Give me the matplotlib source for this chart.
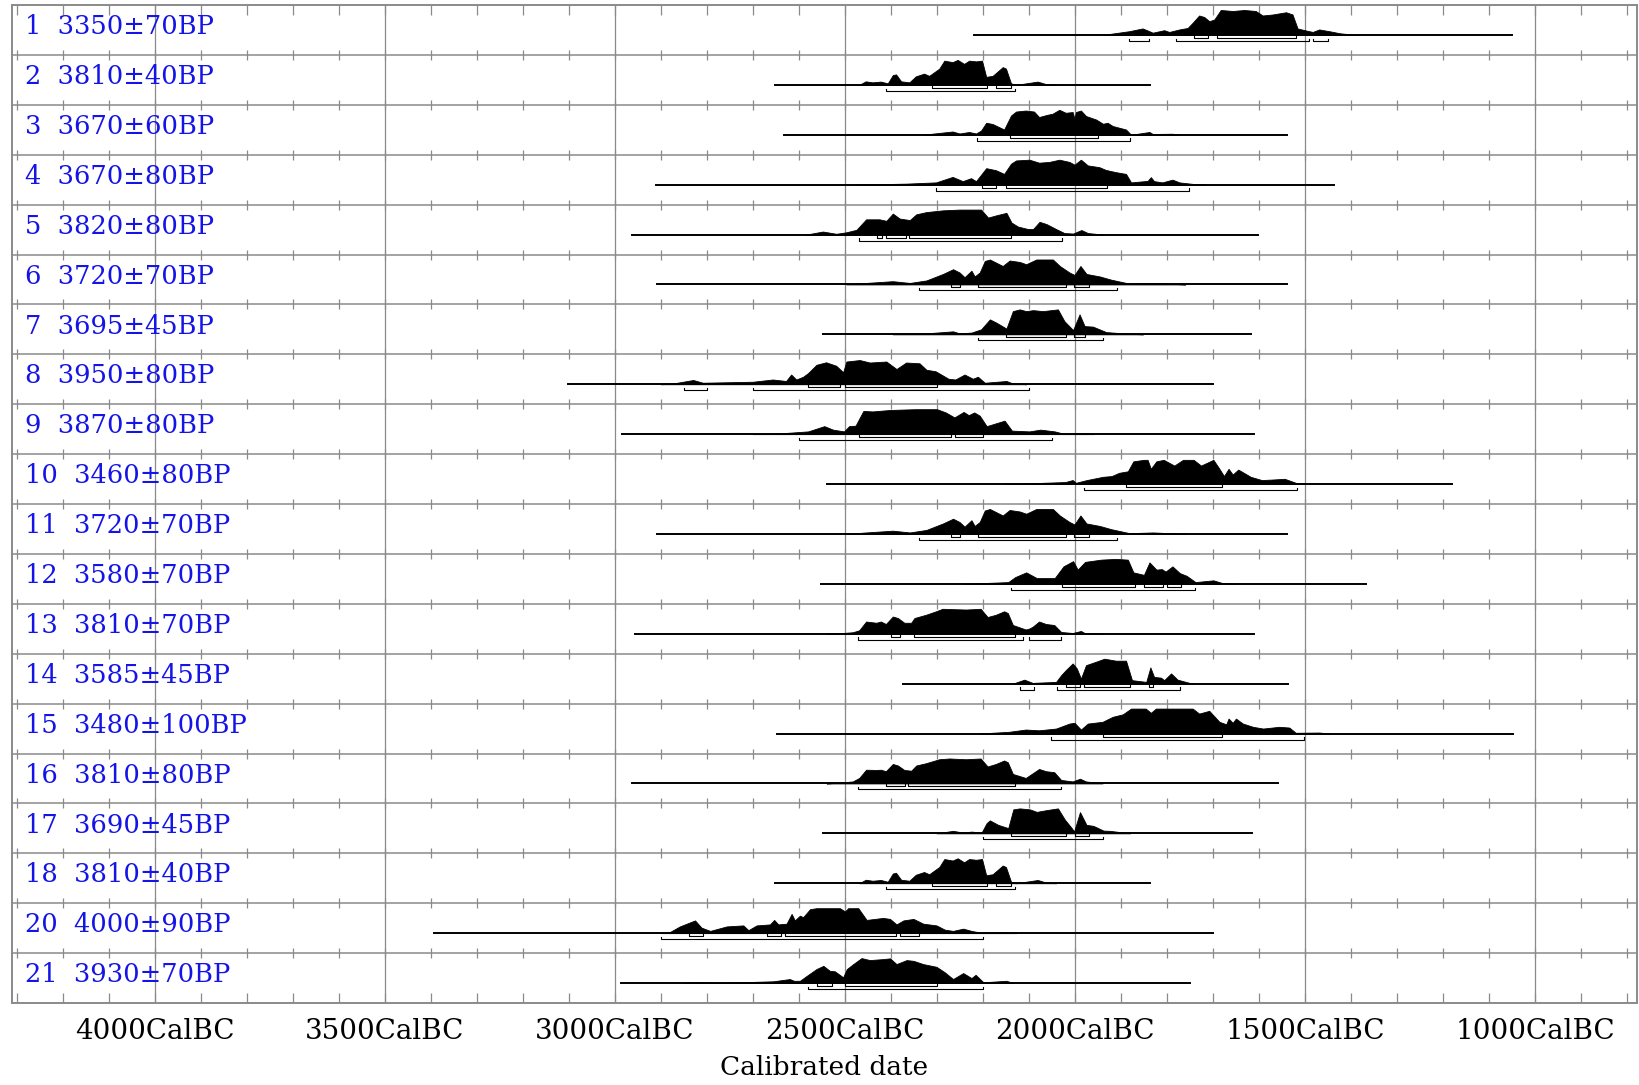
import matplotlib
matplotlib.use("Agg")
import matplotlib.pyplot as plt
from matplotlib.ticker import MultipleLocator, FuncFormatter
import matplotlib.transforms as mtransforms
import numpy as np

# sample labels (lab no, conventional age)
row_ids = ["1", "2", "3", "4", "5", "6", "7", "8", "9", "10",
           "11", "12", "13", "14", "15", "16", "17", "18", "20", "21"]
row_ages = ["3350±70BP", "3810±40BP", "3670±60BP", "3670±80BP", "3820±80BP",
            "3720±70BP", "3695±45BP", "3950±80BP", "3870±80BP", "3460±80BP",
            "3720±70BP", "3580±70BP", "3810±70BP", "3585±45BP", "3480±100BP",
            "3810±80BP", "3690±45BP", "3810±40BP", "4000±90BP", "3930±70BP"]

# extent of the calibration line (cal BC, start -> end)
line_start = [2220, 2652, 2632, 2911, 2964, 2909, 2548, 3102, 2984, 2539,
              2909, 2552, 2957, 2373, 2648, 2964, 2548, 2652, 3393, 2986]
line_end = [1050, 1836, 1539, 1436, 1602, 1539, 1618, 1700, 1611, 1180,
            1539, 1368, 1611, 1536, 1048, 1559, 1616, 1836, 1700, 1750]

# posterior shapes: (cal BC, relative probability)
dist_1 = [(1940, 0), (1882, .15), (1853, .26), (1842, .18), (1831, .09), (1806, .19),
          (1795, .12), (1773, .22), (1755, .28), (1744, .49), (1730, .78), (1719, .72),
          (1708, .55), (1697, .62), (1683, 1.0), (1657, .96), (1632, 1.0), (1607, .96),
          (1592, .78), (1570, .82), (1541, .91), (1527, .82), (1516, .26), (1498, .18),
          (1483, .12), (1469, .22), (1447, .15), (1425, .07), (1396, .01), (1382, 0)]
dist_2 = [(2469, 0), (2455, .14), (2440, .10), (2422, .13), (2407, .06), (2396, .39),
          (2389, .42), (2378, .14), (2360, .10), (2346, .34), (2328, .45), (2317, .36),
          (2295, .65), (2284, .97), (2266, .91), (2255, 1.0), (2241, .84), (2230, .97),
          (2215, .94), (2202, .97), (2193, .32), (2179, .36), (2157, .71), (2150, .65),
          (2139, .06), (2128, 0), (2081, .13), (2063, .03), (2041, 0)]
dist_3 = [(2331, 0), (2266, .13), (2251, .05), (2230, .11), (2215, .05), (2204, .17),
          (2193, .48), (2179, .43), (2154, .21), (2139, .77), (2128, .93), (2107, .97),
          (2089, .93), (2078, .71), (2060, .80), (2049, .84), (2034, 1.0), (2020, .88),
          (2005, .91), (2001, .64), (1998, .91), (1987, .97), (1976, .75), (1954, .61),
          (1939, .44), (1929, .48), (1918, .35), (1889, .21), (1878, 0), (1838, .11),
          (1831, .03), (1788, .04), (1773, 0)]
dist_4 = [(2476, 0), (2367, .04), (2302, .09), (2266, .31), (2244, .14), (2226, .26),
          (2215, .14), (2193, .66), (2172, .58), (2154, .43), (2139, .84), (2128, .97),
          (2099, 1.0), (2078, .88), (2056, .91), (2034, 1.0), (2012, .91), (2001, .80),
          (1987, 1.0), (1972, .77), (1947, .70), (1933, .59), (1911, .50), (1889, .43),
          (1878, .09), (1842, .15), (1835, .30), (1828, .14), (1810, .09), (1788, .20),
          (1773, .09), (1744, .03), (1715, 0)]
dist_5 = [(2584, 0), (2548, .12), (2519, .03), (2497, .09), (2475, .19), (2454, .61),
          (2425, .61), (2410, .55), (2396, .84), (2381, .64), (2359, .58), (2345, .81),
          (2323, .90), (2287, .97), (2251, 1.0), (2204, 1.0), (2189, .68), (2171, .77),
          (2149, .87), (2138, .48), (2124, .32), (2102, .22), (2091, .22), (2077, .51),
          (2062, .42), (2041, .22), (2023, .06), (2004, .04), (1986, .18), (1972, .06),
          (1939, 0)]
dist_6 = [(2497, 0), (2454, .06), (2396, .13), (2359, .06), (2323, .16), (2287, .42),
          (2265, .61), (2251, .48), (2240, .29), (2225, .55), (2218, .32), (2207, .48),
          (2196, .94), (2185, 1.0), (2157, .74), (2142, .96), (2120, .90), (2106, .81),
          (2084, 1.0), (2048, 1.0), (2033, .74), (2012, .48), (2001, .38), (1988, .74),
          (1975, .42), (1946, .32), (1921, .19), (1881, .03), (1830, .06), (1794, .03),
          (1760, 0)]
dist_7 = [(2396, 0), (2323, .04), (2265, .12), (2251, .04), (2225, .07), (2204, .20),
          (2185, .60), (2171, .47), (2149, .23), (2135, .93), (2120, 1.0), (2106, .93),
          (2091, .97), (2070, .93), (2037, 1.0), (2023, .53), (2004, .17), (1990, .80),
          (1979, .33), (1961, .31), (1932, .09), (1888, .03), (1852, 0)]
dist_8 = [(2900, 0), (2874, .03), (2830, .17), (2809, .06), (2700, .10), (2657, .19),
          (2628, .13), (2617, .39), (2606, .19), (2591, .30), (2580, .45), (2562, .78),
          (2541, .88), (2519, .74), (2504, .48), (2497, .91), (2468, .97), (2446, .87),
          (2410, .91), (2388, .61), (2367, .87), (2338, .84), (2323, .58), (2303, .52),
          (2275, .22), (2260, .19), (2240, .39), (2222, .22), (2211, .30), (2196, .06),
          (2149, .13), (2135, .03), (2106, 0)]
dist_9 = [(2700, 0), (2642, .03), (2603, .08), (2580, .11), (2545, .32), (2526, .18),
          (2502, .11), (2491, .32), (2477, .34), (2460, .93), (2440, .91), (2401, .97),
          (2347, 1.0), (2300, 1.0), (2281, .87), (2262, .67), (2242, .89), (2231, .76),
          (2219, .87), (2207, .74), (2192, .32), (2153, .54), (2137, .14), (2099, .11),
          (2075, .18), (2044, .11), (2021, 0), (1982, .05), (1959, 0)]
dist_10 = [(2150, 0), (2099, .03), (2021, .08), (2005, .16), (1998, .05), (1974, .16),
           (1939, .29), (1920, .32), (1904, .45), (1885, .51), (1873, .91), (1850, .97),
           (1842, .97), (1835, .61), (1823, .91), (1807, .97), (1784, .74), (1765, .97),
           (1742, .97), (1726, .74), (1699, .97), (1687, .64), (1676, .32), (1666, .61),
           (1657, .38), (1645, .58), (1618, .29), (1594, .16), (1571, .18), (1544, .21),
           (1520, .05), (1501, 0)]
dist_12 = [(2240, 0), (2200, .03), (2145, .07), (2130, .27), (2106, .46), (2083, .23),
           (2044, .23), (2025, .70), (2004, .91), (1994, .57), (1978, .88), (1943, .97),
           (1912, 1.0), (1885, .97), (1873, .46), (1850, .36), (1838, .86), (1823, .57),
           (1811, .59), (1803, .49), (1788, .70), (1772, .43), (1757, .32), (1738, .07),
           (1699, .14), (1679, .03), (1648, 0)]
dist_13 = [(2540, 0), (2512, .02), (2483, .06), (2469, .14), (2454, .49), (2432, .44),
           (2422, .49), (2411, .39), (2396, .69), (2385, .63), (2371, .44), (2356, .44),
           (2349, .63), (2324, .76), (2302, .90), (2288, 1.0), (2237, .97), (2205, 1.0),
           (2190, .67), (2172, .76), (2154, .90), (2146, .83), (2135, .35), (2107, .17),
           (2099, .21), (2092, .28), (2078, .49), (2063, .39), (2045, .35), (2030, .07),
           (2005, .03), (1987, .11), (1976, 0), (1940, 0)]
dist_14 = [(2135, 0), (2110, .16), (2092, .03), (2041, .07), (2030, .34), (2020, .54),
           (2005, .81), (1996, .61), (1987, .20), (1976, .74), (1954, .88), (1936, 1.0),
           (1911, .92), (1889, .92), (1876, .14), (1845, .07), (1836, .65), (1828, .27),
           (1813, .24), (1806, .14), (1791, .41), (1777, .16), (1759, .07), (1744, 0)]
dist_15 = [(2208, 0), (2143, .07), (2107, .16), (2078, .13), (2041, .20), (2012, .40),
           (2001, .43), (1987, .16), (1972, .40), (1940, .47), (1918, .67), (1896, .77),
           (1878, 1.0), (1846, 1.0), (1835, .83), (1824, 1.0), (1744, 1.0), (1730, .80),
           (1708, .91), (1686, .47), (1671, .37), (1666, .60), (1657, .43), (1650, .60),
           (1635, .40), (1613, .27), (1591, .20), (1556, .27), (1534, .24), (1520, .03),
           (1469, .04), (1447, 0)]
dist_16 = [(2540, 0), (2512, .03), (2483, .08), (2469, .22), (2454, .55), (2432, .54),
           (2422, .55), (2411, .49), (2396, .78), (2385, .72), (2371, .54), (2356, .51),
           (2345, .72), (2324, .81), (2295, .97), (2273, 1.0), (2237, .97), (2205, 1.0),
           (2190, .68), (2172, .78), (2154, .92), (2146, .85), (2135, .38), (2107, .22),
           (2078, .58), (2063, .49), (2045, .45), (2030, .14), (2005, .08), (1989, .19),
           (1976, .08), (1940, 0)]
dist_17 = [(2301, 0), (2265, .10), (2243, .03), (2225, .07), (2203, .03), (2192, .41),
           (2185, .52), (2167, .34), (2145, .21), (2134, .96), (2120, 1.0), (2098, .96),
           (2083, .86), (2062, .93), (2037, 1.0), (2022, .55), (2007, .21), (2002, .07),
           (1989, .85), (1975, .34), (1960, .30), (1938, .11), (1924, .10), (1880, 0)]
dist_20 = [(2899, 0), (2881, .04), (2859, .27), (2826, .51), (2812, .22), (2793, .09),
           (2775, .18), (2757, .27), (2721, .31), (2710, .12), (2692, .31), (2663, .35),
           (2654, .53), (2645, .35), (2627, .38), (2616, .77), (2609, .51), (2598, .70),
           (2591, .64), (2576, .96), (2562, 1.0), (2511, 1.0), (2500, .87), (2493, 1.0),
           (2471, 1.0), (2453, .53), (2417, .61), (2402, .57), (2388, .35), (2373, .51),
           (2351, .57), (2330, .38), (2301, .31), (2283, .14), (2265, .09), (2243, .18),
           (2225, .09), (2199, 0), (2156, .04), (2127, 0)]
dist_21 = [(2851, 0), (2822, .04), (2779, 0), (2656, .07), (2620, .16), (2611, .09),
           (2598, .09), (2583, .29), (2562, .56), (2547, .69), (2533, .49), (2522, .47),
           (2504, .23), (2496, .56), (2482, .76), (2464, 1.0), (2446, .92), (2417, .96),
           (2402, .99), (2388, .76), (2366, .92), (2351, .89), (2330, .76), (2301, .65),
           (2283, .43), (2265, .16), (2243, .40), (2225, .20), (2216, .33), (2199, .03),
           (2149, .09), (2134, 0)]
# samples 11 and 18 repeat the ages of 6 and 2
dists = [dist_1, dist_2, dist_3, dist_4, dist_5, dist_6, dist_7, dist_8, dist_9, dist_10,
         dist_6, dist_12, dist_13, dist_14, dist_15, dist_16, dist_17, dist_2, dist_20, dist_21]

# 68.2% and 95.4% ranges (cal BC)
ranges_68 = [[(1741, 1710), (1691, 1520)],
             [(2311, 2191), (2171, 2140)],
             [(2141, 1950)],
             [(2201, 2172), (2150, 1931)],
             [(2430, 2420), (2410, 2368), (2361, 2140)],
             [(2270, 2249), (2211, 2019), (2001, 1970)],
             [(2149, 2019), (2001, 1979)],
             [(2580, 2511), (2499, 2300)],
             [(2470, 2269), (2260, 2200)],
             [(1889, 1681)],
             [(2270, 2249), (2211, 2019), (2001, 1970)],
             [(2029, 1870), (1850, 1809), (1800, 1769)],
             [(2400, 2381), (2350, 2131)],
             [(2020, 1989), (1980, 1881), (1840, 1830)],
             [(1940, 1681)],
             [(2411, 2370), (2362, 2131)],
             [(2139, 2020), (2000, 1969)],
             [(2311, 2191), (2171, 2140)],
             [(2840, 2809), (2669, 2640), (2630, 2388), (2380, 2338)],
             [(2560, 2529), (2499, 2299)]]
ranges_95 = [[(1882, 1840), (1780, 1491), (1482, 1450)],
             [(2411, 2131)],
             [(2212, 1880)],
             [(2301, 1751)],
             [(2470, 2028)],
             [(2340, 1909)],
             [(2211, 1939)],
             [(2850, 2800), (2700, 2100)],
             [(2599, 2050)],
             [(1980, 1518)],
             [(2340, 1909)],
             [(2140, 1740)],
             [(2471, 2112), (2100, 2030)],
             [(2120, 2090), (2040, 1771)],
             [(2051, 1501)],
             [(2471, 2030)],
             [(2199, 1938)],
             [(2411, 2131)],
             [(2900, 2199)],
             [(2580, 2199)]]

grey = "#8a8a8a"
serif = ["DejaVu Serif"]

fig = plt.figure(figsize=(16.4, 10.85), dpi=100)
ax = fig.add_axes([12 / 1640, 1 - 1003 / 1085, 1625 / 1640, 998 / 1085])
n = len(row_ids)
ax.set_xlim(-4311, -778)
ax.set_ylim(n, 0)

# grid: vertical lines every 500 years, row separators with 100-year ticks
for yr in range(-4000, -999, 500):
    ax.axvline(yr, color=grey, lw=0.9, zorder=1)
tick_x = np.arange(-4300, -799, 100)
for i in range(1, n):
    ax.axhline(i, color=grey, lw=1.1, zorder=1)
    ax.plot(tick_x, np.full(len(tick_x), i), ls="none", marker="|", ms=7,
            mew=0.9, color=grey, zorder=1)

lab_tr = mtransforms.blended_transform_factory(ax.transAxes, ax.transData)
for i in range(n):
    base = i + 0.6
    ax.plot([-line_start[i], -line_end[i]], [base, base], color="black", lw=1.4, zorder=3)
    yrs = np.array([p[0] for p in dists[i]], dtype=float)
    prob = np.array([p[1] for p in dists[i]], dtype=float)
    ax.fill_between(-yrs, base - 0.5 * prob, base, color="black", lw=0.6,
                    edgecolor="black", zorder=3)
    for a, b in ranges_68[i]:
        yb = base + 0.06
        ax.plot([-a, -a, -b, -b], [yb - 0.045, yb, yb, yb - 0.045], color="black",
                lw=0.8, zorder=3)
    for a, b in ranges_95[i]:
        yb = base + 0.12
        ax.plot([-a, -a, -b, -b], [yb - 0.045, yb, yb, yb - 0.045], color="black",
                lw=0.8, zorder=3)
    ax.text(0.008, i + 0.585, f"{row_ids[i]}  {row_ages[i]}", transform=lab_tr,
            color="#1414e6", fontsize=18.5, family=serif, va="baseline", ha="left")

ax.xaxis.set_major_locator(MultipleLocator(500))
ax.xaxis.set_minor_locator(MultipleLocator(100))
ax.xaxis.set_major_formatter(FuncFormatter(lambda v, p: f"{int(-v)}CalBC"))
ax.tick_params(axis="x", which="both", direction="in", top=True, bottom=True,
               length=7, width=0.9, color=grey, labelsize=20, pad=11)
ax.tick_params(axis="y", left=False, labelleft=False)
for lbl in ax.get_xticklabels():
    lbl.set_family(serif)
for sp in ax.spines.values():
    sp.set_color(grey)
    sp.set_linewidth(1.4)
ax.set_xlabel("Calibrated date", fontsize=19, family=serif, labelpad=7)

fig.savefig("out.png", dpi=100)
